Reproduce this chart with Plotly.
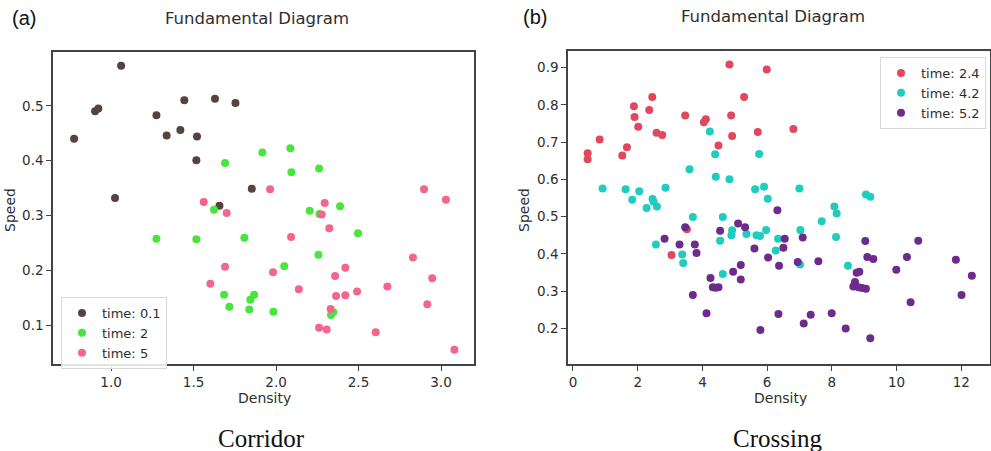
import plotly.graph_objects as go

# ---------------- Corridor data ----------------
cor_t01_x = [1.061, 0.776, 0.903, 0.923, 1.024, 1.275, 1.337, 1.444, 1.420, 1.521, 1.517, 1.630, 1.754, 1.853, 1.657]
cor_t01_y = [0.573, 0.440, 0.490, 0.495, 0.332, 0.483, 0.446, 0.510, 0.456, 0.444, 0.401, 0.513, 0.505, 0.349, 0.318]

cor_t2_x = [1.691, 1.917, 2.087, 2.093, 2.261, 1.624, 2.204, 2.263, 2.388, 1.275, 1.517, 1.808, 2.497, 2.257,
            2.050, 1.685, 1.867, 1.844, 1.717, 1.838, 1.984, 2.347, 2.333]
cor_t2_y = [0.396, 0.415, 0.423, 0.379, 0.386, 0.311, 0.309, 0.303, 0.317, 0.258, 0.257, 0.260, 0.268, 0.229,
            0.208, 0.156, 0.156, 0.147, 0.134, 0.129, 0.125, 0.124, 0.119]

cor_t5_x = [1.964, 1.562, 1.701, 2.295, 2.277, 2.323, 2.091, 2.897, 3.030, 2.830, 1.691, 1.982, 1.602, 2.420,
            2.358, 2.138, 2.364, 2.420, 2.491, 2.675, 2.947, 2.917, 2.331, 2.261, 2.307, 2.604, 3.081]
cor_t5_y = [0.348, 0.325, 0.305, 0.323, 0.302, 0.277, 0.261, 0.348, 0.329, 0.224, 0.207, 0.197, 0.176, 0.205,
            0.190, 0.166, 0.154, 0.155, 0.162, 0.171, 0.186, 0.139, 0.130, 0.096, 0.093, 0.088, 0.056]

# ---------------- Crossing data ----------------
cro_t24_x = [0.453, 0.453, 0.823, 1.523, 1.667, 1.883, 1.903, 2.016, 2.356, 2.449, 2.582, 2.757, 3.467, 4.043,
             4.105, 4.835, 4.887, 4.918, 4.496, 5.288, 5.988, 5.710, 6.811, 3.519, 3.045]
cro_t24_y = [0.670, 0.654, 0.707, 0.664, 0.686, 0.796, 0.767, 0.741, 0.786, 0.821, 0.725, 0.719, 0.771, 0.753,
             0.761, 0.908, 0.771, 0.716, 0.691, 0.821, 0.895, 0.727, 0.735, 0.466, 0.397]

cro_t42_x = [0.916, 1.626, 1.831, 2.047, 2.274, 2.459, 2.490, 2.593, 2.860, 3.601, 2.562, 3.374, 3.405, 3.704,
             4.228, 4.393, 4.414, 4.835, 4.630, 4.547, 4.630, 4.918, 4.897, 5.360, 5.628, 5.751, 5.905, 6.019,
             5.669, 5.782, 5.967, 6.337, 6.265, 6.996, 7.027, 7.016, 7.685, 8.076, 8.148, 8.128, 8.498, 9.053, 9.187]
cro_t42_y = [0.575, 0.573, 0.545, 0.568, 0.523, 0.547, 0.540, 0.527, 0.577, 0.627, 0.425, 0.398, 0.375, 0.499,
             0.728, 0.667, 0.607, 0.600, 0.499, 0.435, 0.346, 0.463, 0.450, 0.453, 0.573, 0.668, 0.580, 0.548,
             0.450, 0.448, 0.464, 0.440, 0.409, 0.575, 0.464, 0.371, 0.487, 0.527, 0.508, 0.445, 0.368, 0.559, 0.553]

cro_t52_x = [2.829, 3.292, 3.467, 3.765, 3.817, 3.704, 4.126, 4.249, 4.321, 4.403, 4.496, 4.547, 4.949, 5.103,
             5.319, 5.185, 5.185, 5.607, 5.792, 6.029, 6.317, 6.368, 6.348, 6.543, 6.502, 7.099, 6.944, 7.130,
             7.346, 7.582, 7.994, 8.426, 8.714, 8.765, 8.848, 8.663, 8.817, 8.930, 9.053, 9.033, 9.095, 9.280,
             9.187, 9.990, 10.319, 10.432, 10.669, 11.831, 12.006, 12.325]
cro_t52_y = [0.440, 0.425, 0.471, 0.425, 0.402, 0.289, 0.240, 0.335, 0.310, 0.309, 0.310, 0.462, 0.352, 0.481,
             0.471, 0.370, 0.331, 0.414, 0.195, 0.390, 0.517, 0.368, 0.238, 0.440, 0.416, 0.444, 0.378, 0.213,
             0.236, 0.380, 0.240, 0.199, 0.324, 0.349, 0.352, 0.312, 0.310, 0.308, 0.306, 0.434, 0.391, 0.386,
             0.173, 0.357, 0.391, 0.270, 0.435, 0.384, 0.289, 0.341]

cor_ticks_x = [1.0, 1.5, 2.0, 2.5, 3.0]
cor_ticks_y = [0.1, 0.2, 0.3, 0.4, 0.5]
cro_ticks_x = [0, 2, 4, 6, 8, 10, 12]
cro_ticks_y = [0.2, 0.3, 0.4, 0.5, 0.6, 0.7, 0.8, 0.9]

W, H = 991, 451
TXT = "#2e2e2e"
FONT = "DejaVu Sans"

fig = go.Figure()

def add(x, y, name, color, xa, ya, leg):
    fig.add_trace(go.Scatter(x=x, y=y, mode="markers", name=name, xaxis=xa, yaxis=ya,
                             legend=leg,
                             marker=dict(color=color, size=8, line=dict(width=0))))

add(cor_t01_x, cor_t01_y, "time: 0.1", "#54433f", "x", "y", "legend")
add(cor_t2_x, cor_t2_y, "time: 2", "#48e53c", "x", "y", "legend")
add(cor_t5_x, cor_t5_y, "time: 5", "#f2668e", "x", "y", "legend")
add(cro_t24_x, cro_t24_y, "time: 2.4", "#e2485c", "x2", "y2", "legend2")
add(cro_t42_x, cro_t42_y, "time: 4.2", "#1fcdbf", "x2", "y2", "legend2")
add(cro_t52_x, cro_t52_y, "time: 5.2", "#6d2c8b", "x2", "y2", "legend2")

axis_common = dict(showline=True, linecolor="#444444", linewidth=1.5, mirror=True,
                   showgrid=False, zeroline=False, ticks="outside", ticklen=5,
                   tickcolor="#444444", tickwidth=1.2,
                   tickfont=dict(family=FONT, size=13.5, color=TXT))

fig.update_layout(
    width=W, height=H,
    margin=dict(l=0, r=0, t=0, b=0),
    paper_bgcolor="white", plot_bgcolor="white",
    xaxis=dict(domain=[53/W, 474/W], range=[0.648, 3.2], tickvals=cor_ticks_x,
               ticktext=[f"{v:.1f}" for v in cor_ticks_x], anchor="y", **axis_common),
    yaxis=dict(domain=[1-364/H, 1-52/H], range=[0.030, 0.598], tickvals=cor_ticks_y,
               ticktext=[f"{v:.1f}" for v in cor_ticks_y], anchor="x", **axis_common),
    xaxis2=dict(domain=[568/W, 990/W], range=[-0.154, 12.886], tickvals=cro_ticks_x,
                ticktext=[str(v) for v in cro_ticks_x], anchor="y2", **axis_common),
    yaxis2=dict(domain=[1-364/H, 1-51/H], range=[0.104, 0.9445], tickvals=cro_ticks_y,
                ticktext=[f"{v:.1f}" for v in cro_ticks_y], anchor="x2", **axis_common),
    legend=dict(x=61/W, y=1-297/H, xanchor="left", yanchor="top",
                bgcolor="rgba(255,255,255,0.85)", bordercolor="#d8d8d8", borderwidth=1,
                font=dict(family=FONT, size=13, color=TXT), itemsizing="trace"),
    legend2=dict(x=880/W, y=1-57/H, xanchor="left", yanchor="top",
                 bgcolor="rgba(255,255,255,0.85)", bordercolor="#d8d8d8", borderwidth=1,
                 font=dict(family=FONT, size=13, color=TXT), itemsizing="trace"),
    showlegend=True,
)

def ann(text, x, y, size, family=FONT, color=TXT, angle=0):
    fig.add_annotation(text=text, x=x/W, y=1-y/H, xref="paper", yref="paper",
                       showarrow=False, font=dict(family=family, size=size, color=color),
                       textangle=angle, xanchor="center", yanchor="middle")

ann("Fundamental Diagram", 257, 18, 16.5)
ann("Fundamental Diagram", 773, 16, 16.5)
ann("(a)", 24, 18, 20, family="Liberation Sans", color="#111111")
ann("(b)", 535, 17, 20, family="Liberation Sans", color="#111111")
ann("Density", 264, 398, 14)
ann("Density", 780, 398, 14)
ann("Speed", 10, 210, 14, angle=-90)
ann("Speed", 524, 210, 14, angle=-90)
ann("Corridor", 261, 438, 25, family="Liberation Serif", color="#111111")
ann("Crossing", 777, 438, 25, family="Liberation Serif", color="#111111")

fig.write_html("out.html")
